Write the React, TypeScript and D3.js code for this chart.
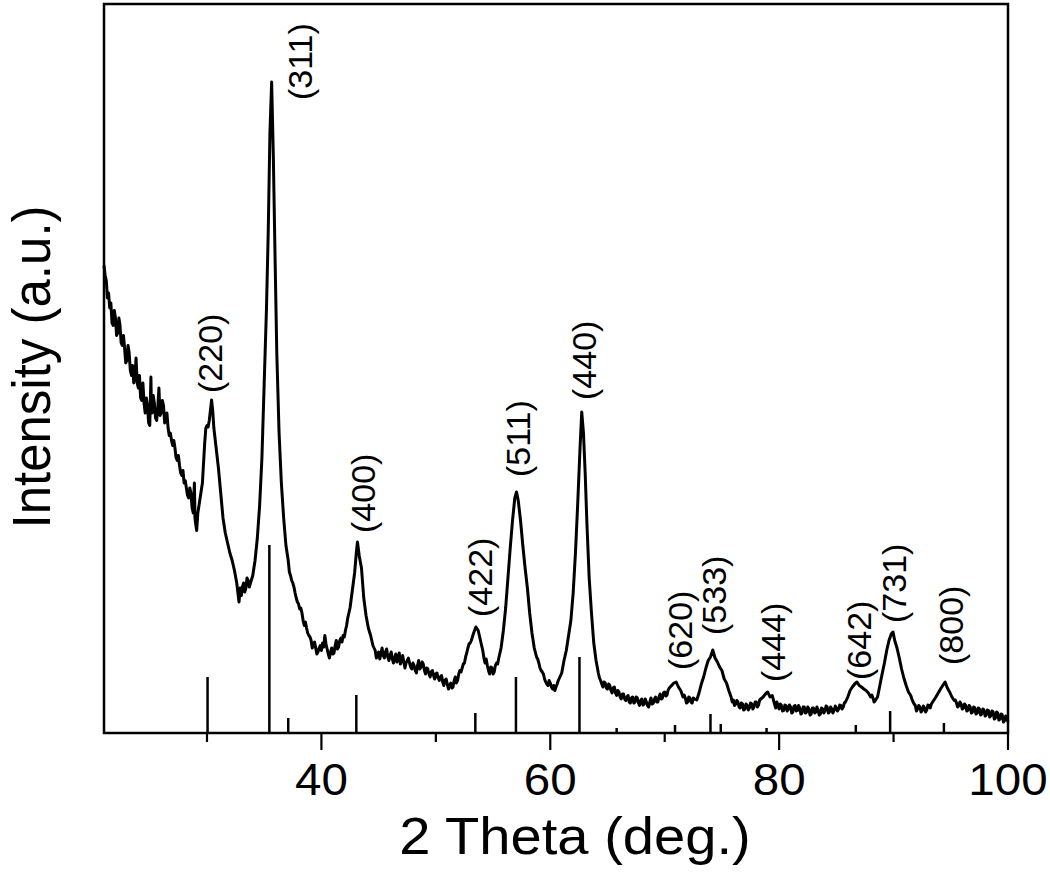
import React from "react";
import * as d3 from "d3";

// XRD scan: [2θ (deg), intensity (a.u.)]
const scan: [number, number][] = [
  [21.0, 935], [21.1, 915], [21.2, 905], [21.3, 870], [21.4, 880], [21.5, 850], [21.6, 860], [21.7, 820], [21.8, 815], [21.9, 845],
  [22.0, 830], [22.1, 795], [22.2, 800], [22.3, 830], [22.4, 815], [22.5, 780], [22.6, 775], [22.7, 795], [22.8, 770], [22.9, 740],
  [23.0, 745], [23.1, 775], [23.2, 760], [23.3, 725], [23.4, 715], [23.5, 735], [23.6, 700], [23.7, 710], [23.8, 750], [23.9, 700],
  [24.0, 690], [24.1, 715], [24.2, 670], [24.3, 665], [24.4, 700], [24.5, 660], [24.6, 640], [24.7, 670], [24.8, 655], [24.9, 620],
  [25.0, 615], [25.1, 712], [25.15, 640], [25.2, 640], [25.3, 675], [25.4, 660], [25.5, 630], [25.6, 625], [25.7, 650], [25.8, 690],
  [25.9, 635], [26.0, 640], [26.1, 665], [26.2, 655], [26.3, 620], [26.4, 625], [26.5, 640], [26.6, 610], [26.7, 595], [26.8, 600],
  [26.9, 585], [27.0, 575], [27.1, 585], [27.2, 570], [27.3, 550], [27.4, 545], [27.5, 555], [27.6, 535], [27.7, 520], [27.8, 515],
  [27.9, 525], [28.0, 500], [28.1, 505], [28.2, 490], [28.3, 475], [28.4, 470], [28.5, 490], [28.6, 480], [28.7, 450], [28.8, 440],
  [28.9, 500], [28.95, 430], [29.0, 420], [29.1, 405], [29.2, 440], [29.4, 470], [29.6, 500], [29.8, 580], [29.9, 610], [30.0, 615],
  [30.1, 612], [30.2, 625], [30.3, 645], [30.4, 666], [30.5, 645], [30.6, 610], [30.8, 570], [31.0, 530], [31.2, 480], [31.4, 430],
  [31.6, 400], [31.8, 380], [32.0, 360], [32.2, 345], [32.4, 325], [32.6, 300], [32.8, 262], [32.9, 290], [33.0, 275], [33.1, 292],
  [33.2, 300], [33.3, 282], [33.4, 290], [33.5, 310], [33.6, 305], [33.7, 292], [33.8, 300], [34.0, 315], [34.2, 345], [34.4, 390],
  [34.6, 455], [34.8, 550], [35.0, 700], [35.2, 850], [35.35, 1000], [35.5, 1200], [35.65, 1302], [35.8, 1150], [35.95, 950], [36.1, 760],
  [36.3, 600], [36.5, 500], [36.7, 430], [36.9, 375], [37.1, 345], [37.2, 322], [37.3, 315], [37.4, 305], [37.5, 300], [37.6, 292],
  [37.7, 280], [37.8, 270], [37.9, 262], [38.0, 258], [38.1, 248], [38.2, 250], [38.3, 240], [38.4, 225], [38.5, 215], [38.6, 222],
  [38.7, 210], [38.8, 200], [38.9, 195], [39.0, 192], [39.1, 185], [39.2, 170], [39.3, 178], [39.4, 182], [39.5, 170], [39.6, 158],
  [39.7, 162], [39.8, 170], [39.9, 175], [40.0, 165], [40.1, 180], [40.2, 172], [40.3, 195], [40.4, 178], [40.5, 168], [40.6, 158],
  [40.7, 150], [40.8, 162], [40.9, 170], [41.0, 158], [41.1, 160], [41.2, 175], [41.3, 185], [41.4, 168], [41.5, 172], [41.6, 185],
  [41.7, 190], [41.8, 182], [41.9, 195], [42.0, 192], [42.1, 205], [42.2, 215], [42.3, 230], [42.5, 250], [42.7, 285], [42.9, 320],
  [43.05, 360], [43.15, 382], [43.3, 355], [43.5, 330], [43.7, 270], [43.9, 235], [44.1, 210], [44.3, 195], [44.4, 185], [44.5, 175],
  [44.6, 170], [44.7, 165], [44.8, 150], [44.9, 158], [45.0, 162], [45.1, 148], [45.2, 158], [45.3, 170], [45.4, 155], [45.5, 150],
  [45.6, 162], [45.7, 168], [45.8, 152], [45.9, 145], [46.0, 155], [46.1, 162], [46.2, 148], [46.3, 140], [46.4, 150], [46.5, 158],
  [46.6, 142], [46.7, 150], [46.8, 160], [46.9, 138], [47.0, 145], [47.1, 155], [47.2, 142], [47.3, 130], [47.4, 140], [47.5, 145],
  [47.6, 150], [47.7, 140], [47.8, 132], [47.9, 128], [48.0, 140], [48.1, 135], [48.2, 125], [48.3, 120], [48.4, 135], [48.5, 145],
  [48.6, 128], [48.7, 132], [48.8, 142], [48.9, 138], [49.0, 125], [49.1, 118], [49.2, 130], [49.3, 128], [49.4, 118], [49.5, 112],
  [49.6, 122], [49.7, 125], [49.8, 115], [49.9, 108], [50.0, 118], [50.1, 120], [50.2, 110], [50.3, 105], [50.4, 112], [50.5, 115],
  [50.6, 102], [50.7, 95], [50.8, 105], [50.9, 108], [51.0, 98], [51.1, 88], [51.2, 95], [51.3, 100], [51.4, 90], [51.5, 92],
  [51.6, 105], [51.7, 112], [51.8, 100], [51.9, 105], [52.0, 118], [52.1, 125], [52.2, 122], [52.3, 130], [52.4, 138], [52.5, 140],
  [52.6, 152], [52.7, 160], [52.8, 170], [52.9, 178], [53.0, 180], [53.1, 185], [53.3, 200], [53.5, 212], [53.7, 205], [53.9, 185],
  [54.1, 165], [54.2, 150], [54.3, 140], [54.4, 148], [54.5, 135], [54.6, 125], [54.7, 118], [54.8, 132], [54.9, 130], [55.0, 118],
  [55.1, 122], [55.2, 135], [55.3, 140], [55.4, 138], [55.5, 150], [55.7, 170], [55.9, 205], [56.1, 250], [56.3, 310], [56.5, 370],
  [56.7, 425], [56.9, 470], [57.05, 482], [57.2, 465], [57.4, 425], [57.6, 375], [57.8, 330], [58.0, 290], [58.2, 240], [58.4, 200],
  [58.6, 170], [58.8, 152], [58.9, 148], [59.0, 140], [59.1, 130], [59.2, 125], [59.3, 122], [59.4, 118], [59.5, 108], [59.6, 102],
  [59.7, 98], [59.8, 95], [59.9, 105], [60.0, 100], [60.1, 92], [60.2, 88], [60.3, 95], [60.4, 85], [60.5, 92], [60.6, 98],
  [60.7, 105], [60.8, 110], [61.0, 120], [61.2, 145], [61.4, 165], [61.6, 195], [61.8, 225], [62.0, 280], [62.2, 360], [62.4, 460],
  [62.6, 570], [62.75, 642], [62.9, 600], [63.05, 520], [63.2, 420], [63.4, 310], [63.6, 240], [63.8, 180], [64.0, 145], [64.2, 120],
  [64.3, 110], [64.4, 105], [64.5, 98], [64.6, 92], [64.7, 102], [64.8, 100], [64.9, 90], [65.0, 88], [65.1, 98], [65.2, 95],
  [65.3, 85], [65.4, 80], [65.5, 90], [65.6, 92], [65.7, 80], [65.8, 75], [65.9, 85], [66.0, 82], [66.1, 72], [66.2, 68],
  [66.3, 78], [66.4, 78], [66.5, 68], [66.6, 65], [66.7, 72], [66.8, 75], [66.9, 62], [67.0, 60], [67.1, 70], [67.2, 72],
  [67.3, 60], [67.4, 62], [67.5, 72], [67.6, 70], [67.7, 60], [67.8, 55], [67.9, 65], [68.0, 68], [68.1, 56], [68.2, 58],
  [68.3, 68], [68.4, 62], [68.5, 55], [68.6, 52], [68.7, 62], [68.8, 70], [68.9, 58], [69.0, 60], [69.1, 68], [69.2, 72],
  [69.3, 62], [69.4, 62], [69.5, 72], [69.6, 78], [69.7, 68], [69.8, 70], [69.9, 80], [70.0, 82], [70.1, 74], [70.2, 76],
  [70.3, 86], [70.4, 90], [70.6, 95], [70.8, 100], [71.0, 102], [71.2, 92], [71.4, 85], [71.6, 72], [71.7, 76], [71.8, 70],
  [71.9, 60], [72.0, 62], [72.1, 72], [72.2, 70], [72.3, 62], [72.4, 60], [72.5, 70], [72.6, 68], [72.8, 66], [73.0, 80],
  [73.2, 98], [73.4, 112], [73.6, 130], [73.8, 145], [74.0, 152], [74.2, 166], [74.4, 150], [74.6, 142], [74.8, 132], [75.0, 125],
  [75.2, 108], [75.4, 100], [75.6, 85], [75.8, 72], [75.9, 62], [76.0, 66], [76.1, 55], [76.2, 58], [76.3, 65], [76.4, 62],
  [76.5, 52], [76.6, 50], [76.7, 60], [76.8, 58], [76.9, 46], [77.0, 48], [77.1, 58], [77.2, 55], [77.3, 46], [77.4, 50],
  [77.5, 60], [77.6, 58], [77.7, 48], [77.8, 52], [77.9, 62], [78.0, 62], [78.1, 52], [78.2, 56], [78.3, 66], [78.4, 68],
  [78.6, 72], [78.8, 78], [79.0, 82], [79.2, 72], [79.4, 75], [79.5, 66], [79.6, 58], [79.7, 50], [79.8, 62], [79.9, 55],
  [80.0, 48], [80.1, 58], [80.2, 55], [80.3, 44], [80.4, 45], [80.5, 56], [80.6, 55], [80.7, 44], [80.8, 48], [80.9, 56],
  [81.0, 52], [81.1, 40], [81.2, 42], [81.3, 54], [81.4, 55], [81.5, 44], [81.6, 45], [81.7, 55], [81.8, 50], [81.9, 38],
  [82.0, 40], [82.1, 52], [82.2, 52], [82.3, 40], [82.4, 42], [82.5, 52], [82.6, 48], [82.7, 36], [82.8, 38], [82.9, 50],
  [83.0, 50], [83.1, 40], [83.2, 42], [83.3, 52], [83.4, 46], [83.5, 36], [83.6, 38], [83.7, 50], [83.8, 48], [83.9, 40],
  [84.0, 44], [84.1, 54], [84.2, 52], [84.3, 40], [84.4, 42], [84.5, 52], [84.6, 48], [84.7, 40], [84.8, 45], [84.9, 54],
  [85.0, 50], [85.1, 44], [85.2, 48], [85.3, 56], [85.4, 55], [85.5, 48], [85.6, 52], [85.7, 60], [85.8, 62], [86.0, 72],
  [86.2, 85], [86.4, 92], [86.6, 98], [86.8, 102], [87.0, 95], [87.2, 92], [87.4, 88], [87.6, 85], [87.8, 80], [88.0, 72],
  [88.1, 76], [88.2, 70], [88.3, 62], [88.4, 65], [88.6, 72], [88.8, 95], [89.0, 118], [89.2, 140], [89.4, 165], [89.6, 185],
  [89.8, 198], [89.95, 202], [90.1, 185], [90.3, 170], [90.5, 150], [90.7, 128], [90.9, 110], [91.1, 95], [91.3, 82], [91.5, 75],
  [91.6, 68], [91.7, 62], [91.8, 58], [91.9, 55], [92.0, 44], [92.1, 48], [92.2, 55], [92.3, 52], [92.4, 42], [92.5, 45],
  [92.6, 54], [92.7, 50], [92.8, 42], [92.9, 46], [93.0, 56], [93.1, 55], [93.2, 50], [93.3, 58], [93.5, 65], [93.7, 72],
  [93.9, 80], [94.1, 88], [94.3, 95], [94.5, 102], [94.7, 90], [94.9, 82], [95.1, 72], [95.3, 65], [95.4, 66], [95.5, 60],
  [95.6, 52], [95.7, 55], [95.8, 62], [95.9, 58], [96.0, 48], [96.1, 50], [96.2, 58], [96.3, 55], [96.4, 44], [96.5, 46],
  [96.6, 55], [96.7, 52], [96.8, 40], [96.9, 42], [97.0, 52], [97.1, 50], [97.2, 38], [97.3, 40], [97.4, 50], [97.5, 48],
  [97.6, 36], [97.7, 38], [97.8, 48], [97.9, 46], [98.0, 34], [98.1, 36], [98.2, 46], [98.3, 45], [98.4, 32], [98.5, 35],
  [98.6, 44], [98.7, 42], [98.8, 28], [98.9, 30], [99.0, 42], [99.1, 40], [99.2, 26], [99.3, 28], [99.4, 38], [99.5, 36],
  [99.6, 22], [99.7, 25], [99.8, 34], [99.9, 30], [100.0, 22],
];

// Reference pattern (standard) lines
const refTheta = [30.05, 35.45, 37.1, 43.05, 53.45, 57.0, 62.55, 65.8, 70.9, 74.0, 74.9, 78.9, 86.7, 89.7, 94.4];
const refIntensity = [112, 376, 30, 76, 40, 112, 152, 10, 16, 38, 18, 10, 16, 44, 20];

// Peak labels: text, 2θ of label, intensity where the label starts
const peakLabels = ["(220)", "(311)", "(400)", "(422)", "(511)", "(440)", "(620)", "(533)", "(444)", "(642)", "(731)", "(800)"];
const peakLabelTheta = [30.2, 38.08, 43.6, 53.8, 57.2, 62.9, 71.3, 74.25, 79.4, 87.0, 90.0, 95.0];
const peakLabelIntensity = [680, 1266, 400, 232, 512, 666, 126, 196, 102, 106, 220, 136];

const majorTicks = [40, 60, 80, 100];
const minorTicks = [30, 50, 70, 90];

const xDomain: [number, number] = [21, 100];
const yDomain: [number, number] = [0, 1460];

const xTitle = "2 Theta (deg.)";
const yTitle = "Intensity (a.u.)";

export default function App() {
  const left = 104, right = 1008, top = 4, bottom = 733;
  const x = d3.scaleLinear().domain(xDomain).range([left, right]);
  const y = d3.scaleLinear().domain(yDomain).range([bottom, 3]);
  const line = d3.line<[number, number]>().x((d) => x(d[0])).y((d) => y(d[1]));
  const font = "'Liberation Sans', Arial, Helvetica, sans-serif";
  const sx = 1.08;

  return (
    <svg
      width={1050}
      height={874}
      style={{ position: "absolute", left: 0, top: 0, background: "#fff" }}
      fontFamily={font}
    >
      <rect x={0} y={0} width={1050} height={874} fill="#fff" />
      {/* reference sticks */}
      {refTheta.map((t, i) => (
        <line key={"s" + i} x1={x(t)} x2={x(t)} y1={y(0)} y2={y(refIntensity[i])} stroke="#000" strokeWidth={2.5} />
      ))}
      {/* data */}
      <path d={line(scan) || ""} fill="none" stroke="#000" strokeWidth={3} strokeLinejoin="round" />
      {/* frame */}
      <rect x={left} y={top} width={right - left} height={bottom - top} fill="none" stroke="#000" strokeWidth={2.5} />
      {/* ticks */}
      {majorTicks.map((t) => (
        <g key={"M" + t}>
          <line x1={x(t)} x2={x(t)} y1={bottom} y2={bottom + 17} stroke="#000" strokeWidth={2.2} />
          <text transform={`translate(${x(t)},795) scale(${sx},1)`} textAnchor="middle" fontSize={44} fill="#000">
            {t}
          </text>
        </g>
      ))}
      {minorTicks.map((t) => (
        <line key={"m" + t} x1={x(t)} x2={x(t)} y1={bottom} y2={bottom + 9} stroke="#000" strokeWidth={2.2} />
      ))}
      {/* peak labels */}
      {peakLabels.map((s, i) => (
        <text
          key={"l" + i}
          transform={`translate(${x(peakLabelTheta[i])},${y(peakLabelIntensity[i])}) rotate(-90)`}
          dy="0.36em"
          fontSize={34}
          fill="#000"
        >
          {s}
        </text>
      ))}
      {/* axis titles */}
      <text transform={`translate(${(left + right) / 2 + 19},854) scale(1.1,1)`} textAnchor="middle" fontSize={51} fill="#000">
        {xTitle}
      </text>
      <text transform={`translate(50,367) scale(1.05,1) rotate(-90)`} textAnchor="middle" fontSize={51} fill="#000">
        {yTitle}
      </text>
    </svg>
  );
}
